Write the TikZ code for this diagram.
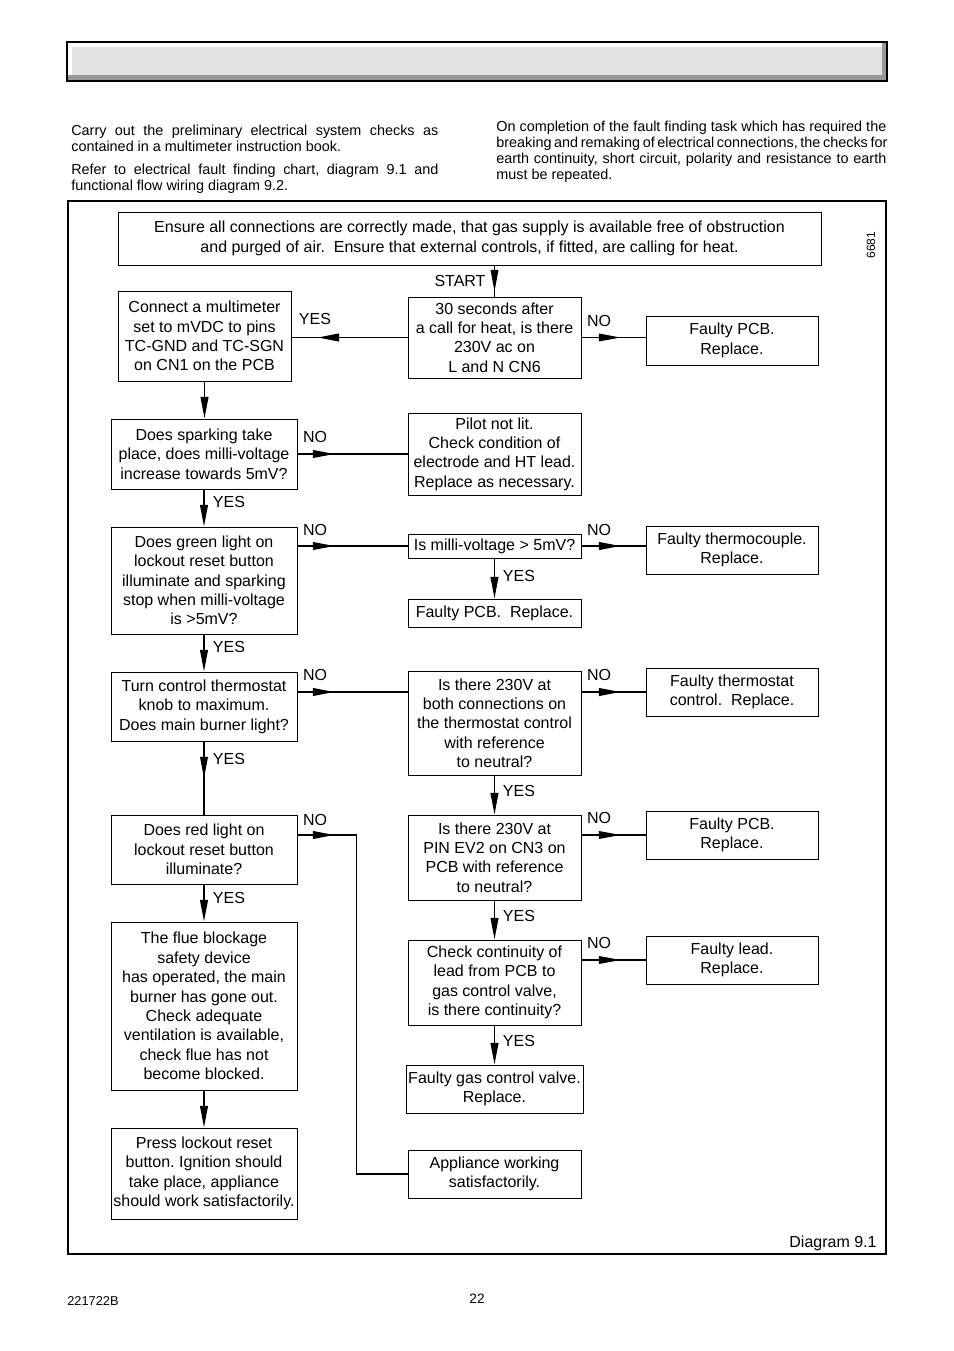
\documentclass[tikz,border=0pt]{standalone}
\usepackage{fontspec}
\setmainfont{Liberation Sans}
\usetikzlibrary{arrows.meta,decorations.markings,positioning}

\newcommand\boxfont{\fontsize{10}{12.1}\selectfont}
\newcommand\jline[2]{\makebox[#1][s]{#2}}
\frenchspacing

\tikzset{
  box/.style={draw, line width=0.6pt, align=center, inner sep=0pt, font=\boxfont},
  sz/.style 2 args={minimum width=#1*0.625pt, minimum height=#2*0.625pt},
  lab/.style={inner sep=0pt, font=\boxfont},
  intro/.style={align=left, inner sep=0pt, font=\fontsize{9}{10}\selectfont},
  conn/.style={line width=1.1pt},
  thinconn/.style={line width=0.7pt},
  tipat/.style={postaction={decorate, decoration={markings,
      mark=at position #1 with {\arrow{>}}}}}
}

\begin{document}
\begin{tikzpicture}[x=0.625pt, y=-0.625pt, >={Triangle[length=13.5pt,width=4.8pt]}]
\useasboundingbox (0,0) rectangle (954,1351);
\fill[white] (0,0) rectangle (954,1351);

% title bar
\fill[black!40] (68,43) rectangle (886,80);
\fill[white] (68,43) rectangle (882,75);
\fill[black!11] (72,47) rectangle (882,75);
\draw[line width=0.9pt] (67,42) rectangle (887,81);

% introduction
\node[intro, anchor=north west] (introa) at (71,124.8)
  {\jline{229.4pt}{Carry out the preliminary electrical system checks as}\\
   contained in a multimeter instruction book.};
\node[intro, anchor=north west] (introb) at (71,163.8)
  {\jline{229.4pt}{Refer to electrical fault finding chart, diagram 9.1 and}\\
   functional flow wiring diagram 9.2.};
\node[intro, anchor=north west] (introc) at (496,120.8)
  {\jline{243.75pt}{On completion of the fault finding task which has required the}\\
   \jline{243.75pt}{breaking and remaking of electrical connections, the checks for}\\
   \jline{243.75pt}{earth continuity, short circuit, polarity and resistance to earth}\\
   must be repeated.};

% frame
\draw[line width=0.7pt] (68,201) rectangle (886,1254);
\node[rotate=90, inner sep=0pt, font=\fontsize{7.5}{9}\selectfont] (figno) at (871,245) {6681};
\node[lab] (diagno) at (833,1243) {Diagram 9.1};

% boxes
\node[box, sz={703}{53}] (top) at (469.5,238.5)
  {Ensure all connections are correctly made, that gas supply is available free of obstruction\\
   and purged of air.\ \ Ensure that external controls, if fitted, are calling for heat.};
\node[box, sz={173}{81}] (start30) at (494.5,337.5)
  {30 seconds after\\a call for heat, is there\\230V ac on\\L and N CN6};
\node[box, sz={173}{90}] (meter) at (204.5,336)
  {Connect a multimeter\\set to mVDC to pins\\TC-GND and TC-SGN\\on CN1 on the PCB};
\node[box, sz={172}{49}] (pcba) at (732,340.5) {Faulty PCB.\\Replace.};
\node[box, sz={186}{70}] (spark) at (204,454)
  {Does sparking take\\place, does milli-voltage\\increase towards 5mV?};
\node[box, sz={173}{82}] (pilot) at (494.5,454)
  {Pilot not lit.\\Check condition of\\electrode and HT lead.\\Replace as necessary.};
\node[box, sz={186}{107}] (green) at (204,580.5)
  {Does green light on\\lockout reset button\\illuminate and sparking\\stop when milli-voltage\\is >5mV?};
\node[box, sz={173}{24}] (milli) at (494.5,546) {Is milli-voltage > 5mV?};
\node[box, sz={172}{48}] (thermo) at (732,550) {Faulty thermocouple.\\Replace.};
\node[box, sz={173}{28}] (pcbb) at (494.5,613) {Faulty PCB.\ \ Replace.};
\node[box, sz={186}{69}] (turn) at (204,706.5)
  {Turn control thermostat\\knob to maximum.\\Does main burner light?};
\node[box, sz={173}{104}] (volt) at (494.5,723)
  {Is there 230V at\\both connections on\\the thermostat control\\with reference\\to neutral?};
\node[box, sz={172}{48}] (tstat) at (732,692) {Faulty thermostat\\control.\ \ Replace.};
\node[box, sz={186}{69}] (red) at (204,849.5)
  {Does red light on\\lockout reset button\\illuminate?};
\node[box, sz={173}{85}] (pin) at (494.5,857.5)
  {Is there 230V at\\PIN EV2 on CN3 on\\PCB with reference\\to neutral?};
\node[box, sz={172}{48}] (pcbc) at (732,835) {Faulty PCB.\\Replace.};
\node[box, sz={186}{168}] (flue) at (204,1006)
  {The flue blockage\\safety device\\has operated, the main\\burner has gone out.\\Check adequate\\ventilation is available,\\check flue has not\\become blocked.};
\node[box, sz={186}{91}] (press) at (204,1173.5)
  {Press lockout reset\\button. Ignition should\\take place, appliance\\should work satisfactorily.};
\node[box, sz={173}{85}] (cont) at (494.5,982.5)
  {Check continuity of\\lead from PCB to\\gas control valve,\\is there continuity?};
\node[box, sz={172}{48}] (lead) at (732,960) {Faulty lead.\\Replace.};
\node[box, sz={177}{48}] (valve) at (494.5,1089) {Faulty gas control valve.\\Replace.};
\node[box, sz={173}{48}] (works) at (494.5,1174) {Appliance working\\satisfactorily.};

% connectors
\draw[thinconn, tipat=16.25pt] (start30.north |- top.south) -- (start30.north);
\draw[conn, tipat=56.25pt] (start30.west) -- (start30.west -| meter.east);
\draw[thinconn, tipat=24.4pt] (start30.east) -- (start30.east -| pcba.west);
\draw[conn, ->] (meter.south) -- (meter.south |- spark.north);
\draw[conn, tipat=23.1pt] (spark.east) -- (pilot.west);
\draw[conn, ->] (spark.south) -- (green.north);
\draw[conn, tipat=23.1pt] (green.east |- milli.west) -- (milli.west);
\draw[conn, tipat=24.4pt] (milli.east) -- (milli.east -| thermo.west);
\draw[conn, ->] (milli.south) -- (pcbb.north);
\draw[conn, ->] (green.south) -- (turn.north);
\draw[conn, tipat=23.1pt] (turn.east |- tstat.west) -- (volt.west |- tstat.west);
\draw[conn, tipat=24.4pt] (volt.east |- tstat.west) -- (tstat.west);
\draw[conn, ->] (volt.south) -- (pin.north);
\draw[thinconn, tipat=23.1pt] (turn.south) -- (red.north);
\draw[conn, tipat=23.1pt] (red.east |- pcbc.west) -- ++(59,0) |- (works.west);
\draw[thinconn, tipat=24.4pt] (pin.east |- pcbc.west) -- (pcbc.west);
\draw[conn, ->] (pin.south) -- (cont.north);
\draw[conn, ->] (red.south) -- (flue.north);
\draw[conn, ->] (flue.south) -- (press.north);
\draw[thinconn, tipat=24.4pt] (cont.east |- lead.west) -- (lead.west);
\draw[conn, ->] (cont.south) -- (valve.north);

% labels
\node[lab] (lstart) at (460,281) {START};
\node[lab] (lyesa) at (315,319) {YES};
\node[lab] (lnoa) at (599,321) {NO};
\node[lab] (lnob) at (315,437) {NO};
\node[lab] (lyesb) at (229,502) {YES};
\node[lab] (lnoc) at (315,530) {NO};
\node[lab] (lnod) at (599,530) {NO};
\node[lab] (lyesc) at (519,576) {YES};
\node[lab] (lyesd) at (229,647) {YES};
\node[lab] (lnoe) at (315,675) {NO};
\node[lab] (lnof) at (599,675) {NO};
\node[lab] (lyese) at (229,759) {YES};
\node[lab] (lyesf) at (519,791) {YES};
\node[lab] (lnog) at (315,820) {NO};
\node[lab] (lnoh) at (599,818) {NO};
\node[lab] (lyesg) at (229,898) {YES};
\node[lab] (lyesh) at (519,916) {YES};
\node[lab] (lnoi) at (599,943) {NO};
\node[lab] (lyesi) at (519,1041) {YES};

% footer
\node[inner sep=0pt, font=\fontsize{8}{9}\selectfont] (docno) at (93,1301) {221722B};
\node[inner sep=0pt, font=\fontsize{8.5}{10}\selectfont] (pageno) at (477,1299) {22};
\end{tikzpicture}
\end{document}
